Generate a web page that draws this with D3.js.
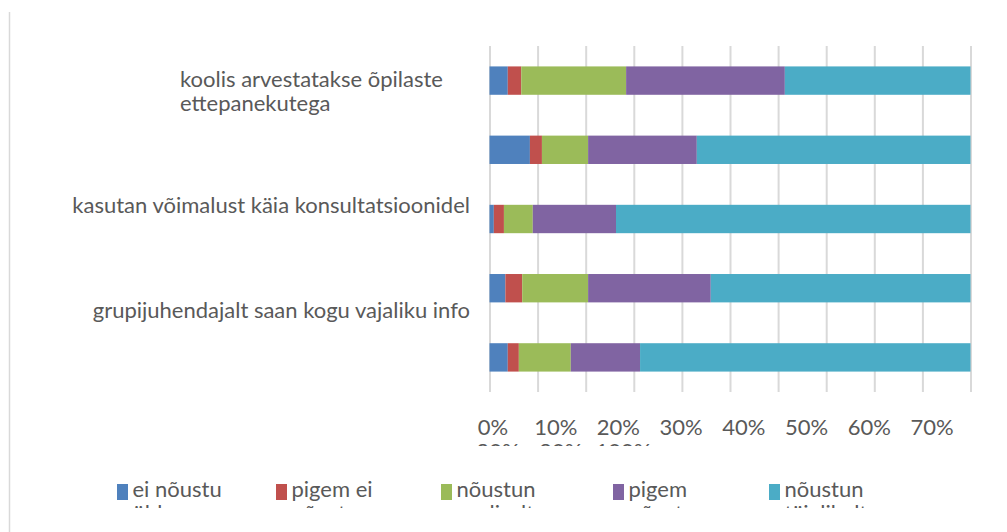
<!DOCTYPE html>
<html>
<head>
<meta charset="utf-8">
<script src="https://cdn.jsdelivr.net/npm/d3@7"></script>
<style>
  body { margin: 0; background: #fff; }
  text { font-family: Lato, "Open Sans", sans-serif; fill: #595959; }
</style>
</head>
<body>
<div id="chart"></div>
<script>
// categories top to bottom, only every other label is shown in the original
var categories = ["koolis arvestatakse õpilaste ettepanekutega", "", "kasutan võimalust käia konsultatsioonidel", "", "grupijuhendajalt saan kogu vajaliku info"];
var seriesNames = ["ei nõustu üldse", "pigem ei nõustu", "nõustun osaliselt", "pigem nõustun", "nõustun täielikult"];

// percentages per category
var eiNoustuYldse = [3.8, 8.4, 0.9, 3.3, 3.8];
var pigemEiNoustu = [2.8, 2.5, 2.1, 3.5, 2.3];
var noustunOsaliselt = [21.8, 9.6, 6.0, 13.7, 10.8];
var pigemNoustun = [33.0, 22.6, 17.3, 25.5, 14.4];
var noustunTaielikult = [38.6, 56.9, 73.7, 54.0, 68.7];

var tickLabels = ["0%", "10%", "20%", "30%", "40%", "50%", "60%", "70%", "80%", "90%", "100%"];
var colors = ["#4F81BD", "#C0504D", "#9BBB59", "#8064A2", "#4BACC6"];

function plotChart() {
    var width = 1007, height = 532;
    var svg = d3.select("#chart")
        .append("svg")
        .attr("width", width)
        .attr("height", height);

    var allSeries = [eiNoustuYldse, pigemEiNoustu, noustunOsaliselt, pigemNoustun, noustunTaielikult];
    var table = categories.map(function(c, i) {
        var row = {idx: i};
        seriesNames.forEach(function(s, j) { row[s] = allSeries[j][i]; });
        return row;
    });
    var stacked = d3.stack().keys(seriesNames)(table);

    var x = d3.scaleLinear().domain([0, 100]).range([489.5, 970.5]);
    var y = d3.scaleBand()
        .domain(d3.range(categories.length))
        .range([46, 392])
        .paddingInner(0.59)
        .paddingOuter(0.295);

    // outer border (left side only visible)
    svg.append("line")
        .attr("x1", 9.5).attr("x2", 9.5)
        .attr("y1", 12).attr("y2", height)
        .attr("stroke", "#d9d9d9").attr("stroke-width", 1.5);

    // vertical gridlines
    var grid = svg.append("g")
        .attr("transform", "translate(0,392)")
        .call(d3.axisBottom(x)
            .tickValues(d3.range(0, 101, 10))
            .tickSize(-(392 - 46))
            .tickFormat(""));
    grid.select(".domain").remove();
    grid.selectAll("line").attr("stroke", "#d9d9d9").attr("stroke-width", 2);

    // bars
    svg.append("g")
        .selectAll("g")
        .data(stacked)
        .join("g")
        .attr("fill", function(d, i) { return colors[i]; })
        .selectAll("rect")
        .data(function(d) { return d; })
        .join("rect")
        .attr("x", function(d) { return x(d[0]); })
        .attr("width", function(d) { return x(d[1]) - x(d[0]); })
        .attr("y", function(d) { return y(d.data.idx); })
        .attr("height", y.bandwidth());

    // category labels (Excel left them a bit off-centre)
    var labelFont = 22;
    var c0 = y(0) + y.bandwidth() / 2;
    var lab0 = svg.append("text")
        .attr("x", 180).attr("y", c0 + 6.5)
        .style("font-size", labelFont + "px");
    lab0.append("tspan").attr("x", 180).text("koolis arvestatakse õpilaste");
    lab0.append("tspan").attr("x", 180).attr("dy", 24).text("ettepanekutega");

    svg.append("text")
        .attr("x", 470).attr("y", y(2) + y.bandwidth() / 2 - 6)
        .attr("text-anchor", "end")
        .style("font-size", labelFont + "px")
        .text(categories[2]);
    svg.append("text")
        .attr("x", 470).attr("y", y(4) + y.bandwidth() / 2 - 39.5)
        .attr("text-anchor", "end")
        .style("font-size", labelFont + "px")
        .text(categories[4]);

    // value axis labels, wrapped onto two rows and cut off
    svg.append("clipPath").attr("id", "tickclip")
        .append("rect").attr("x", 0).attr("y", 400).attr("width", width).attr("height", 46);
    var slot = d3.scalePoint().domain(d3.range(8)).range([493, 932]);
    svg.append("g")
        .attr("clip-path", "url(#tickclip)")
        .selectAll("text")
        .data(tickLabels)
        .join("text")
        .attr("x", function(d, i) { return slot(i % 8) + Math.floor(i / 8) * 5; })
        .attr("y", function(d, i) { return 435 + Math.floor(i / 8) * 24; })
        .attr("text-anchor", "middle")
        .style("font-size", labelFont + "px")
        .text(function(d) { return d; });

    // legend, text wraps and second line is cut off
    svg.append("clipPath").attr("id", "legclip")
        .append("rect").attr("x", 0).attr("y", 470).attr("width", width).attr("height", 38);
    var leg = svg.append("g").attr("clip-path", "url(#legclip)");
    var legX = [117, 276, 441, 613, 769];
    seriesNames.forEach(function(name, i) {
        var lx = legX[i];
        leg.append("rect")
            .attr("x", lx).attr("y", 484)
            .attr("width", 11).attr("height", 16)
            .attr("fill", colors[i]);
        var t = leg.append("text")
            .attr("x", lx + 15.5).attr("y", 497)
            .style("font-size", labelFont + "px");
        var words = name.split(" ");
        var line = [], tspan = t.append("tspan").attr("x", lx + 15.5);
        words.forEach(function(w) {
            line.push(w);
            tspan.text(line.join(" "));
            if (tspan.node().getComputedTextLength() > 110 && line.length > 1) {
                line.pop();
                tspan.text(line.join(" "));
                line = [w];
                tspan = t.append("tspan").attr("x", lx + 15.5).attr("dy", 24).text(w);
            }
        });
    });
}

plotChart();
</script>
</body>
</html>
